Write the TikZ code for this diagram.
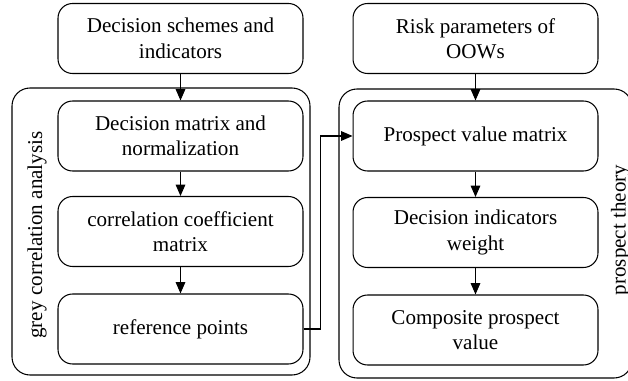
\documentclass[tikz,border=0pt]{standalone}
\usepackage{fontspec}
\setmainfont{Liberation Serif}
\usetikzlibrary{arrows.meta, positioning, calc}

\tikzset{
  stage/.style={draw, rounded corners=0.29cm, minimum width=4.9cm,
                minimum height=1.4cm, align=center,
                font=\fontsize{12}{14.5}\selectfont},
  group/.style={draw, rounded corners=0.36cm},
  side/.style={rotate=90, font=\fontsize{12}{14.5}\selectfont},
  flow/.style={-{Triangle[length=6.5pt,width=5.5pt]}}
}

\begin{document}
\begin{tikzpicture}[x=0.02cm, y=-0.02cm, line width=0.6pt]
  \useasboundingbox (0,0) rectangle (628,381);

  % grey correlation analysis
  \draw[group] (12,88) rectangle (310,375);
  \node[side] (greylbl) at (37,235) {grey correlation analysis};
  \node[stage] (schemes) at (180.5,38.5) {Decision schemes and\\indicators};
  \node[stage] (decmat) at (180.5,136) {Decision matrix and\\normalization};
  \node[stage] (coeff) at (180.5,231.5) {correlation coefficient\\matrix};
  \node[stage] (refpts) at (180.5,329) {reference points};

  % prospect theory
  \draw[group] (339,89) rectangle (632,378);
  \node[side] (prosplbl) at (620.5,230) {prospect theory};
  \node[stage] (risk) at (475.5,38.5) {Risk parameters of\\OOWs};
  \node[stage] (prospmat) at (475.5,136) {Prospect value matrix};
  \node[stage] (weight) at (475.5,232.5) {Decision indicators\\weight};
  \node[stage] (comp) at (475.5,330) {Composite prospect\\value};

  % arrows
  \draw[flow] (schemes) -- (decmat);
  \draw[flow] (decmat) -- (coeff);
  \draw[flow] (coeff) -- (refpts);
  \draw[flow] (risk) -- (prospmat);
  \draw[flow] (prospmat) -- (weight);
  \draw[flow] (weight) -- (comp);
  \coordinate (bend) at ($(refpts.east)+(17,0)$);
  \draw[flow] (refpts.east) -- (bend) |- (prospmat.west);
\end{tikzpicture}
\end{document}
